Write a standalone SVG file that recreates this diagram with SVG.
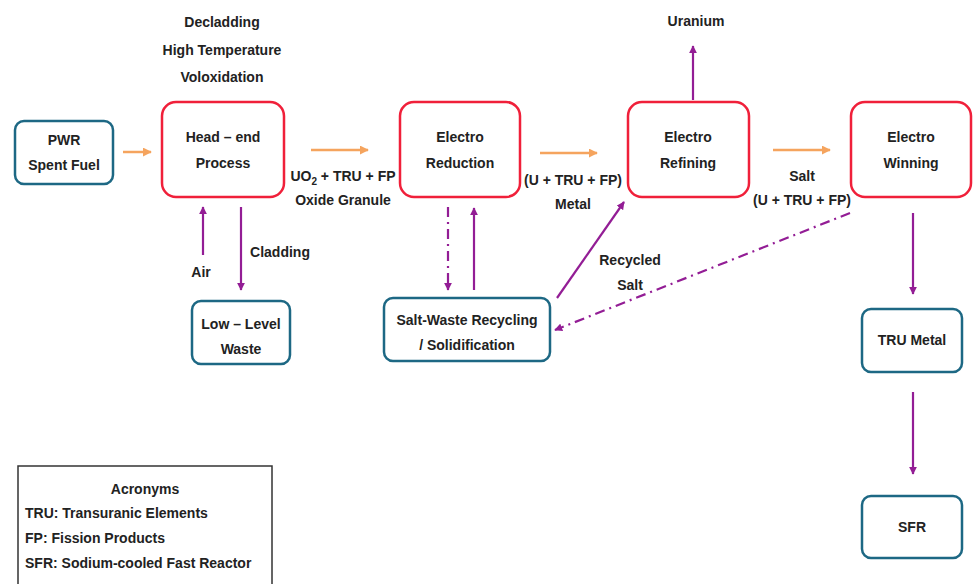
<svg xmlns="http://www.w3.org/2000/svg" width="974" height="584" viewBox="0 0 974 584">
<defs>
<style>
text{font-family:"Liberation Sans",Arial,sans-serif;font-weight:bold;font-size:14px;fill:#222;text-anchor:middle}
.l{text-anchor:start}
.proc{fill:#fff;stroke:#f0203a;stroke-width:2.5}
.term{fill:#fff;stroke:#1d6884;stroke-width:2.5}
.or{stroke:#f5a45e;stroke-width:2.5;fill:none}
.pu{stroke:#931d95;stroke-width:2.2;fill:none}
.dd{stroke-dasharray:10 5 2 5}
</style>
<marker id="ao" viewBox="0 0 10 10" refX="9" refY="5" markerWidth="9" markerHeight="9" markerUnits="userSpaceOnUse" orient="auto"><path d="M0,0 L10,5 L0,10 z" fill="#f5a45e"/></marker>
<marker id="ap" viewBox="0 0 10 10" refX="9" refY="5" markerWidth="8" markerHeight="8" markerUnits="userSpaceOnUse" orient="auto"><path d="M0,0 L10,5 L0,10 z" fill="#931d95"/></marker>
</defs>
<rect width="974" height="584" fill="#fff"/>
<g id="connectors">
<line class="or" x1="123" y1="152" x2="151" y2="152" marker-end="url(#ao)"/>
<line class="or" x1="311" y1="150" x2="368" y2="150" marker-end="url(#ao)"/>
<line class="or" x1="540" y1="153" x2="597" y2="153" marker-end="url(#ao)"/>
<line class="or" x1="773" y1="150" x2="830" y2="150" marker-end="url(#ao)"/>
<line class="pu" x1="693" y1="100" x2="693" y2="46" marker-end="url(#ap)"/>
<line class="pu" x1="203" y1="255" x2="203" y2="207" marker-end="url(#ap)"/>
<line class="pu" x1="241" y1="207" x2="241" y2="290" marker-end="url(#ap)"/>
<line class="pu dd" x1="448" y1="207" x2="448" y2="290" marker-end="url(#ap)"/>
<line class="pu" x1="474" y1="290" x2="474" y2="208" marker-end="url(#ap)"/>
<line class="pu" x1="557" y1="298" x2="624" y2="202" marker-end="url(#ap)"/>
<line class="pu dd" x1="850" y1="213" x2="555" y2="330" marker-end="url(#ap)"/>
<line class="pu" x1="913" y1="213" x2="913" y2="294" marker-end="url(#ap)"/>
<line class="pu" x1="913" y1="392" x2="913" y2="474" marker-end="url(#ap)"/>
</g>
<g id="labels">
<text x="222" y="27">Decladding</text>
<text x="222" y="55">High Temperature</text>
<text x="222" y="82">Voloxidation</text>
<text x="696" y="26">Uranium</text>
<text x="343" y="181">UO<tspan font-size="10" dy="4">2</tspan><tspan dy="-4"> + TRU + FP</tspan></text>
<text x="343" y="205">Oxide Granule</text>
<text x="573" y="185">(U + TRU + FP)</text>
<text x="573" y="209">Metal</text>
<text x="802" y="181">Salt</text>
<text x="802" y="205">(U + TRU + FP)</text>
<text x="201" y="277">Air</text>
<text x="280" y="257">Cladding</text>
<text x="630" y="265">Recycled</text>
<text x="630" y="290">Salt</text>
</g>
<g id="pwr"><rect class="term" x="15" y="121" width="98" height="63" rx="9"/><text x="64" y="145">PWR</text><text x="64" y="170">Spent Fuel</text></g>
<g id="headend"><rect class="proc" x="162" y="102" width="122" height="95" rx="14"/><text x="223" y="142">Head – end</text><text x="223" y="168">Process</text></g>
<g id="reduction"><rect class="proc" x="400" y="102" width="120" height="95" rx="14"/><text x="460" y="142">Electro</text><text x="460" y="168">Reduction</text></g>
<g id="refining"><rect class="proc" x="628" y="102" width="121" height="95" rx="14"/><text x="688" y="142">Electro</text><text x="688" y="168">Refining</text></g>
<g id="winning"><rect class="proc" x="851" y="102" width="120" height="95" rx="14"/><text x="911" y="142">Electro</text><text x="911" y="168">Winning</text></g>
<g id="llw"><rect class="term" x="192" y="301" width="98" height="63" rx="9"/><text x="241" y="329">Low – Level</text><text x="241" y="354">Waste</text></g>
<g id="saltwaste"><rect class="term" x="384" y="298" width="166" height="63" rx="9"/><text x="467" y="325">Salt-Waste Recycling</text><text x="467" y="350">/ Solidification</text></g>
<g id="trumetal"><rect class="term" x="862" y="309" width="100" height="63" rx="9"/><text x="912" y="345">TRU Metal</text></g>
<g id="sfr"><rect class="term" x="862" y="496" width="100" height="62" rx="9"/><text x="912" y="532">SFR</text></g>
<g id="acronyms"><rect x="18" y="466" width="254" height="130" fill="#fff" stroke="#333" stroke-width="1.5"/>
<text x="145" y="494">Acronyms</text>
<text class="l" x="25" y="518">TRU: Transuranic Elements</text>
<text class="l" x="25" y="543">FP: Fission Products</text>
<text class="l" x="25" y="568">SFR: Sodium-cooled Fast Reactor</text></g>
</svg>
